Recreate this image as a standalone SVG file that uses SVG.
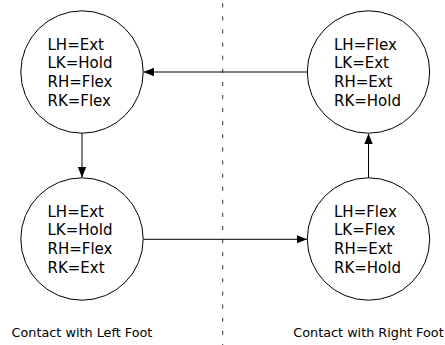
<svg xmlns="http://www.w3.org/2000/svg" width="445" height="345" viewBox="0 0 445 345">
<style>
.node circle{fill:#fff;stroke:#000;stroke-width:1}
.node text{font-family:"DejaVu Sans",sans-serif;font-size:15px;fill:#000}
.cap{font-family:"DejaVu Sans",sans-serif;font-size:12.8px;fill:#000;text-anchor:middle}
.edge{stroke:#000;stroke-width:1;fill:none}
</style>
<defs>
<marker id="arr" markerWidth="11" markerHeight="9" refX="10.5" refY="4.5" orient="auto" markerUnits="userSpaceOnUse">
<path d="M0,0.3 L10.5,4.5 L0,8.7 z" fill="#000"/>
</marker>
</defs>
<rect width="445" height="345" fill="#fff"/>
<line x1="222.7" y1="3.3" x2="222.7" y2="345" stroke="#333" stroke-width="1" stroke-dasharray="4 9.1"/>
<g id="connectors">
<line class="edge" x1="307" y1="72" x2="143.5" y2="72" marker-end="url(#arr)"/>
<line class="edge" x1="82" y1="133" x2="82" y2="177.5" marker-end="url(#arr)"/>
<line class="edge" x1="143.5" y1="239.3" x2="307" y2="239.3" marker-end="url(#arr)"/>
<line class="edge" x1="368.5" y1="178" x2="368.5" y2="133.5" marker-end="url(#arr)"/>
</g>
<g id="n1" class="node">
<circle cx="82" cy="72" r="61.2"/>
<text x="47.5" y="49.5">LH=Ext</text>
<text x="47.5" y="68.2">LK=Hold</text>
<text x="47.5" y="87">RH=Flex</text>
<text x="47.5" y="105.7">RK=Flex</text>
</g>
<g id="n2" class="node">
<circle cx="368.5" cy="72" r="61.2"/>
<text x="334" y="49.5">LH=Flex</text>
<text x="334" y="68.2">LK=Ext</text>
<text x="334" y="87">RH=Ext</text>
<text x="334" y="105.7">RK=Hold</text>
</g>
<g id="n3" class="node">
<circle cx="82" cy="239" r="61.2"/>
<text x="47.5" y="216.5">LH=Ext</text>
<text x="47.5" y="235.2">LK=Hold</text>
<text x="47.5" y="254">RH=Flex</text>
<text x="47.5" y="272.7">RK=Ext</text>
</g>
<g id="n4" class="node">
<circle cx="368.5" cy="239" r="61.2"/>
<text x="334" y="216.5">LH=Flex</text>
<text x="334" y="235.2">LK=Flex</text>
<text x="334" y="254">RH=Ext</text>
<text x="334" y="272.7">RK=Hold</text>
</g>
<text class="cap" x="82" y="337">Contact with Left Foot</text>
<text class="cap" x="368.5" y="337">Contact with Right Foot</text>
</svg>
